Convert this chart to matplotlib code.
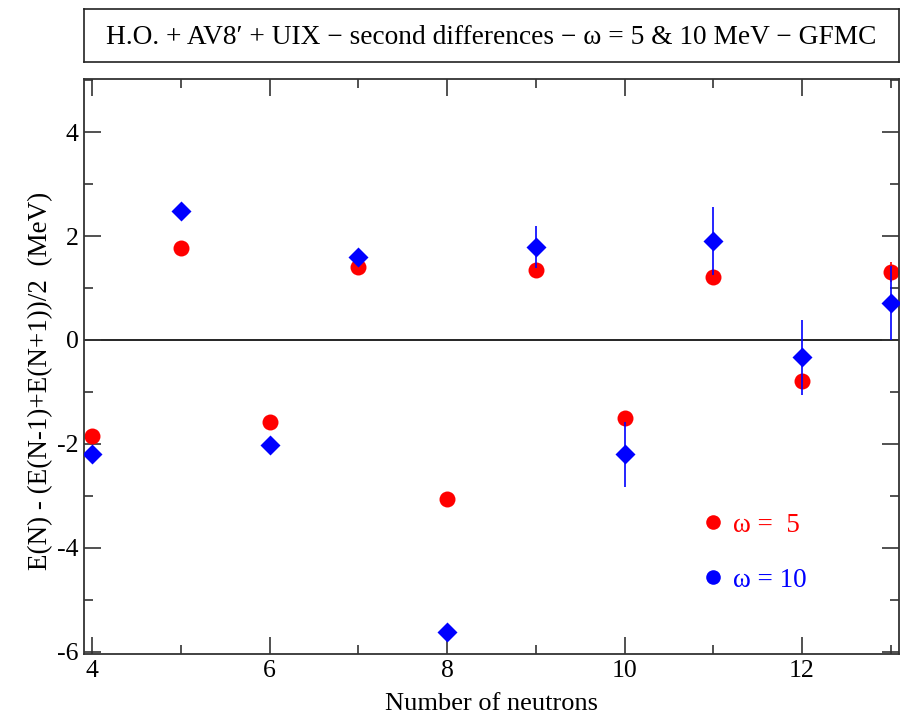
import numpy as np
import matplotlib
matplotlib.use("Agg")
import matplotlib.pyplot as plt
from matplotlib.lines import Line2D
from matplotlib.ticker import MultipleLocator

plt.rcParams['font.family'] = ['Liberation Serif', 'DejaVu Serif']
plt.rcParams['axes.unicode_minus'] = False

# neutron number N
n = np.array([4, 5, 6, 7, 8, 9, 10, 11, 12, 13])
# second differences, hbar omega = 5 MeV
d5 = np.array([-1.84, 1.77, -1.58, 1.40, -3.06, 1.35, -1.50, 1.21, -0.79, 1.31])
e5 = np.array([0.0, 0.0, 0.0, 0.0, 0.0, 0.0, 0.0, 0.0, 0.0, 0.19])
# second differences, hbar omega = 10 MeV
d10 = np.array([-2.19, 2.49, -2.02, 1.60, -5.62, 1.79, -2.20, 1.90, -0.33, 0.71])
e10 = np.array([0.0, 0.0, 0.0, 0.0, 0.0, 0.41, 0.63, 0.65, 0.72, 0.71])

fig = plt.figure(figsize=(9, 7.2), dpi=100)
ax = fig.add_axes([84/900, 66/720, 815/900, 575/720])

ax.axhline(0, color='black', lw=1.2, zorder=1)
ax.errorbar(n, d5, yerr=e5, fmt='o', color='red', ms=11.5, mec='none',
            elinewidth=1.2, capsize=0, zorder=2)
ax.errorbar(n, d10, yerr=e10, fmt='D', color='blue', ms=10.3, mec='none',
            elinewidth=1.2, capsize=0, zorder=3)

ax.set_xlim(3.905, 13.095)
ax.set_ylim(-6.04, 5.02)
ax.xaxis.set_major_locator(MultipleLocator(2))
ax.xaxis.set_minor_locator(MultipleLocator(1))
ax.yaxis.set_minor_locator(MultipleLocator(1))
ax.tick_params(which='both', direction='in', top=True, right=True,
               color='#333333', width=1.2)
ax.tick_params(which='major', length=12, labelsize=18.5, pad=4)
ax.tick_params(which='minor', length=6.5)
ax.set_yticks([-6, -4, -2, 0, 2, 4])
ax.set_yticklabels(['-6', '-4', '-2', '0', '2', '4'])
for s in ax.spines.values():
    s.set_color('#333333')
    s.set_linewidth(1.3)

ax.set_xlabel('Number of neutrons', fontsize=19, labelpad=8)
ax.set_ylabel('E(N) - (E(N-1)+E(N+1))/2  (MeV)', fontsize=19.5, labelpad=3)
ax.yaxis.set_label_coords(-0.038, 0.475)

handles = [Line2D([], [], marker='o', color='red', ls='none', ms=10.5, mec='none'),
           Line2D([], [], marker='o', color='blue', ls='none', ms=10.5, mec='none')]
ax.legend(handles, ['ω =  5', 'ω = 10'], loc='center left',
          bbox_to_anchor=(0.727, 0.176), frameon=False, fontsize=19.5,
          handlelength=0.9, handletextpad=0.3, labelspacing=1.1,
          labelcolor=['red', 'blue'])

# title box
tax = fig.add_axes([84/900, 658/720, 815/900, 53/720])
tax.set_xticks([])
tax.set_yticks([])
for s in tax.spines.values():
    s.set_color('#222222')
    s.set_linewidth(1.2)
tax.text(0.5, 0.47, 'H.O. + AV8′ + UIX − second differences − ω = 5 & 10 MeV − GFMC',
         ha='center', va='center', fontsize=19.7, transform=tax.transAxes)

fig.savefig('out.png', dpi=100)
